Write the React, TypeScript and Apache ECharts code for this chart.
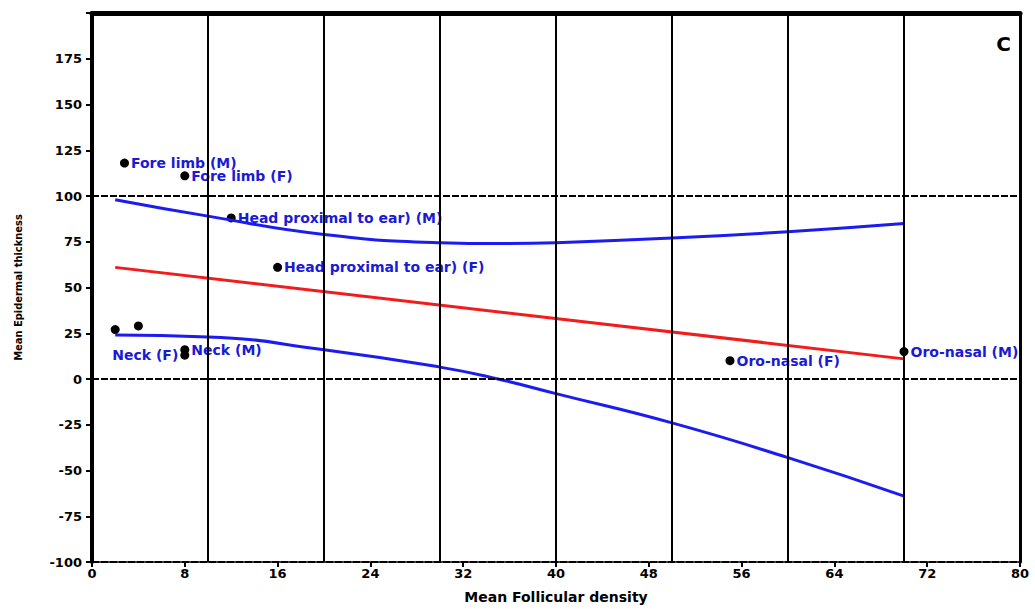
import React, { useEffect, useRef } from "react";
import * as echarts from "echarts";

const pointNames = [
  "Fore limb (M)",
  "Fore limb (F)",
  "Head proximal to ear) (M)",
  "Head proximal to ear) (F)",
  "",
  "",
  "Neck (F)",
  "Neck (M)",
  "Oro-nasal (F)",
  "Oro-nasal (M)",
];
const pointX = [2.8, 8.0, 12.0, 16.0, 2.0, 4.0, 8.0, 8.0, 55.0, 70.0];
const pointY = [118, 111, 88, 61, 27, 29, 13, 16, 10, 15];
const labelSide = ["right", "right", "right", "right", "right", "right", "left", "right", "right", "right"];

const fitX = [2, 70];
const fitY = [61, 11];

const ciX = [2, 10, 20, 30, 35, 40, 50, 60, 70];
const ciUpper = [98, 89, 79, 74.5, 74, 74.5, 77, 80.5, 85];
const ciLower = [24, 23, 16, 6.5, 0, -8, -24, -43, -64];

const verticalRefs = [10, 20, 30, 40, 50, 60, 70];
const horizontalRefs = [100, 0];

const xTicks = { min: 0, max: 80, interval: 8 };
const yTicks = { min: -100, max: 200, interval: 25 };

const FONT = "DejaVu Sans";
const TEXT_BLUE = "#1a1ad6";

export default function App() {
  const ref = useRef<HTMLDivElement>(null);
  useEffect(() => {
    if (!ref.current) return;
    const chart = echarts.init(ref.current, null, { renderer: "svg" });
    const labelStyle = {
      fontFamily: FONT,
      fontWeight: "bold",
      fontSize: 14,
      color: TEXT_BLUE,
    };
    const scatterData = pointX.map((x, i) => ({
      value: [x, pointY[i]],
      name: pointNames[i],
      label: {
        show: pointNames[i] !== "",
        position: labelSide[i],
        distance: 2,
        formatter: "{b}",
        ...labelStyle,
      },
    }));
    const tickLabel = {
      fontFamily: FONT,
      fontWeight: "bold",
      fontSize: 13,
      color: "#000",
    };
    chart.setOption({
      animation: false,
      backgroundColor: "#ffffff",
      grid: { left: 92, right: 15, top: 13, bottom: 44, containLabel: false },
      xAxis: [
        {
          type: "value",
          min: xTicks.min,
          max: xTicks.max,
          interval: xTicks.interval,
          name: "Mean Follicular density",
          nameLocation: "middle",
          nameGap: 28,
          nameTextStyle: { fontFamily: FONT, fontWeight: "bold", fontSize: 14, color: "#000" },
          axisLine: { onZero: false, lineStyle: { color: "#000", width: 2, type: [7, 2] } },
          axisTick: { show: true, length: 5, lineStyle: { color: "#000", width: 2 } },
          axisLabel: { ...tickLabel, margin: 5 },
          splitLine: { show: false },
        },
        {
          type: "value",
          position: "top",
          min: xTicks.min,
          max: xTicks.max,
          axisLine: { onZero: false, lineStyle: { color: "#000", width: 5 } },
          axisTick: { show: false },
          axisLabel: { show: false },
          splitLine: { show: false },
        },
      ],
      yAxis: [
        {
          type: "value",
          min: yTicks.min,
          max: yTicks.max,
          interval: yTicks.interval,
          name: "Mean Epidermal thickness",
          nameLocation: "middle",
          nameGap: 68,
          nameTextStyle: {
            fontFamily: "DejaVu Sans Condensed, Liberation Sans Narrow, Liberation Sans, sans-serif",
            fontWeight: "bold",
            fontSize: 11,
            color: "#000",
          },
          axisLine: { show: true, onZero: false, lineStyle: { color: "#000", width: 4 } },
          axisTick: { show: true, length: 6, lineStyle: { color: "#000", width: 2 } },
          axisLabel: {
            ...tickLabel,
            margin: 10,
            formatter: (v: number) => (v === yTicks.max ? "" : String(v)),
          },
          splitLine: { show: false },
        },
        {
          type: "value",
          position: "right",
          min: yTicks.min,
          max: yTicks.max,
          axisLine: { show: true, onZero: false, lineStyle: { color: "#000", width: 3 } },
          axisTick: { show: false },
          axisLabel: { show: false },
          splitLine: { show: false },
        },
      ],
      graphic: [
        {
          type: "text",
          right: 24,
          top: 34,
          style: { text: "C", fontFamily: FONT, fontWeight: "bold", fontSize: 20, fill: "#000" },
        },
      ],
      series: [
        {
          type: "line",
          data: [],
          silent: true,
          markLine: {
            symbol: "none",
            silent: true,
            label: { show: false },
            data: [
              ...verticalRefs.map((v) => ({
                xAxis: v,
                lineStyle: { color: "#000", width: 2, type: "solid" },
              })),
              ...horizontalRefs.map((v) => ({
                yAxis: v,
                lineStyle: { color: "#000", width: 2, type: [7, 2] },
              })),
            ],
          },
        },
        {
          type: "line",
          data: ciX.map((x, i) => [x, ciUpper[i]]),
          smooth: true,
          showSymbol: false,
          lineStyle: { color: "#1c1cf0", width: 3 },
        },
        {
          type: "line",
          data: ciX.map((x, i) => [x, ciLower[i]]),
          smooth: true,
          showSymbol: false,
          lineStyle: { color: "#1c1cf0", width: 3 },
        },
        {
          type: "line",
          data: fitX.map((x, i) => [x, fitY[i]]),
          showSymbol: false,
          lineStyle: { color: "#f21c1c", width: 3 },
        },
        {
          type: "scatter",
          data: scatterData,
          symbol: "circle",
          symbolSize: 9,
          itemStyle: { color: "#000", opacity: 1 },
        },
      ],
    });
    return () => chart.dispose();
  }, []);
  return <div ref={ref} style={{ width: 1035, height: 609, position: "absolute", left: 0, top: 0 }} />;
}
